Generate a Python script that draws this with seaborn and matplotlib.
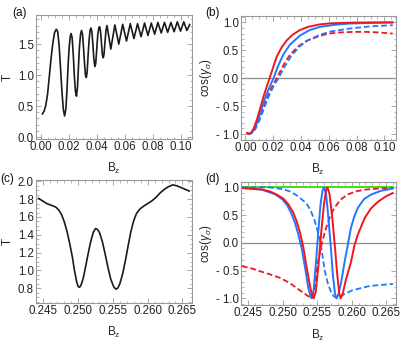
import matplotlib
matplotlib.use("Agg")
import matplotlib.pyplot as plt
import seaborn as sns
import numpy as np
from matplotlib.ticker import MultipleLocator, FuncFormatter

# ---- data ----
# (a) transmission vs Bz, low field
a_x = [0.0012, 0.0025, 0.0037, 0.0050, 0.0062, 0.0075, 0.0088, 0.0100, 0.0112, 0.0122,
       0.0132, 0.0142, 0.0152, 0.0162, 0.0171, 0.0180, 0.0188, 0.0196, 0.0204, 0.0212,
       0.0218, 0.0225, 0.0233, 0.0241, 0.0249, 0.0256, 0.0263, 0.0270, 0.0277, 0.0285,
       0.0292, 0.0299, 0.0306, 0.0314, 0.0320, 0.0326, 0.0332, 0.0339, 0.0346, 0.0353,
       0.0359, 0.0366, 0.0373, 0.0380, 0.0387, 0.0393, 0.0400, 0.0408, 0.0416, 0.0422,
       0.0428, 0.0435, 0.0441, 0.0447, 0.0453, 0.0460, 0.0467, 0.0474,
       0.0501, 0.0530, 0.0558, 0.0586, 0.0613, 0.0640, 0.0666, 0.0692, 0.0717, 0.0742,
       0.0766, 0.0790, 0.0814, 0.0837, 0.0861, 0.0884, 0.0907, 0.0930, 0.0953, 0.0976,
       0.0999, 0.1022, 0.1044, 0.1065]
a_y = [0.37, 0.42, 0.51, 0.70, 0.98, 1.28, 1.53, 1.69, 1.74, 1.70,
       1.48, 1.12, 0.74, 0.45, 0.34, 0.45, 0.75, 1.15, 1.46, 1.63,
       1.67, 1.60, 1.33, 0.98, 0.73, 0.66, 0.80, 1.13, 1.45, 1.66,
       1.72, 1.66, 1.45, 1.17, 1.00, 0.96, 1.05, 1.32, 1.57, 1.72,
       1.76, 1.70, 1.50, 1.26, 1.14, 1.18, 1.40, 1.65, 1.77, 1.78,
       1.70, 1.50, 1.33, 1.28, 1.34, 1.55, 1.73, 1.80,
       1.42, 1.81, 1.50, 1.82, 1.55, 1.83, 1.59, 1.83, 1.62, 1.84,
       1.64, 1.84, 1.66, 1.85, 1.68, 1.85, 1.69, 1.85, 1.70, 1.86,
       1.71, 1.86, 1.72, 1.82]

# (b) cos(gamma_sigma) vs Bz, low field
b_red_x = [0.0010, 0.0024, 0.0040, 0.0060, 0.0083, 0.0105, 0.0130, 0.0152, 0.0174, 0.0200,
           0.0226, 0.0260, 0.0298, 0.0340, 0.0390, 0.0450, 0.0536, 0.0620, 0.0750, 0.0900, 0.1060]
b_red_y = [-0.98, -1.00, -0.98, -0.90, -0.74, -0.55, -0.33, -0.16, 0.00, 0.20,
           0.39, 0.55, 0.68, 0.78, 0.86, 0.92, 0.965, 0.985, 0.995, 1.00, 1.00]
b_blue_x = [0.0010, 0.0024, 0.0045, 0.0065, 0.0090, 0.0120, 0.0150, 0.0175, 0.0202, 0.0235,
            0.0274, 0.0320, 0.0390, 0.0460, 0.0536, 0.0650, 0.0750, 0.0900, 0.1060]
b_blue_y = [-0.98, -1.00, -0.98, -0.91, -0.76, -0.52, -0.30, -0.15, 0.00, 0.22,
            0.43, 0.60, 0.76, 0.86, 0.92, 0.96, 0.98, 0.99, 1.00]
b_red_d_x = [0.0010, 0.0024, 0.0045, 0.0070, 0.0100, 0.0130, 0.0160, 0.0195, 0.0226, 0.0270,
             0.0320, 0.0380, 0.0440, 0.0536, 0.0600, 0.0680, 0.0780, 0.0870, 0.0960, 0.1060]
b_red_d_y = [-0.98, -1.00, -0.98, -0.90, -0.72, -0.52, -0.32, -0.13, 0.00, 0.22,
             0.42, 0.57, 0.67, 0.76, 0.80, 0.82, 0.83, 0.83, 0.82, 0.80]
b_blue_d_x = [0.0010, 0.0024, 0.0045, 0.0072, 0.0105, 0.0140, 0.0170, 0.0205, 0.0238, 0.0280,
              0.0330, 0.0390, 0.0450, 0.0536, 0.0620, 0.0750, 0.0900, 0.1060]
b_blue_d_y = [-0.98, -1.00, -0.98, -0.91, -0.73, -0.50, -0.31, -0.13, 0.00, 0.20,
              0.40, 0.57, 0.68, 0.78, 0.84, 0.89, 0.93, 0.95]

# (c) transmission near resonance
c_x = [0.2443, 0.2449, 0.2455, 0.2462, 0.2468, 0.2472, 0.2476, 0.2480, 0.2484, 0.2488,
       0.2492, 0.2495, 0.2498, 0.2500, 0.2502, 0.2504, 0.2507, 0.2510, 0.2514, 0.2518,
       0.2522, 0.2525, 0.2528, 0.2531, 0.2535, 0.2539, 0.2543, 0.2547, 0.2551, 0.2554,
       0.2557, 0.2560, 0.2564, 0.2568, 0.2572, 0.2576, 0.2580, 0.2584, 0.2589, 0.2594,
       0.2600, 0.2606, 0.2612, 0.2618, 0.2624, 0.2630, 0.2636, 0.2642, 0.2648, 0.2654, 0.2660]
c_y = [1.81, 1.78, 1.75, 1.73, 1.71, 1.68, 1.63, 1.55, 1.44, 1.30,
       1.14, 0.99, 0.87, 0.82, 0.81, 0.83, 0.90, 1.01, 1.17, 1.32,
       1.43, 1.47, 1.46, 1.42, 1.32, 1.18, 1.03, 0.90, 0.82, 0.79,
       0.80, 0.85, 0.96, 1.11, 1.28, 1.44, 1.56, 1.64, 1.69, 1.72,
       1.75, 1.78, 1.82, 1.87, 1.91, 1.94, 1.96, 1.95, 1.93, 1.91, 1.89]

# (d) cos(gamma_sigma) near resonance
d_green_x = [0.2441, 0.2660]
d_green_y = [1.0, 1.0]
d_blue_x = [0.2441, 0.2470, 0.2490, 0.2500, 0.2507, 0.2513, 0.2518, 0.2523, 0.2528, 0.2533,
            0.2537, 0.2540, 0.2542, 0.2545, 0.2548, 0.2552, 0.2555, 0.2558, 0.2560, 0.2563,
            0.2566, 0.2570, 0.2573, 0.2576, 0.2578, 0.2581, 0.2585, 0.2590, 0.2595, 0.2599,
            0.2604, 0.2609, 0.2618, 0.2628, 0.2643, 0.2660]
d_blue_y = [0.99, 0.96, 0.87, 0.78, 0.67, 0.52, 0.36, 0.14, -0.12, -0.48,
            -0.80, -0.95, -1.00, -0.85, -0.40, 0.25, 0.70, 0.95, 1.00, 0.88,
            0.50, -0.10, -0.60, -0.92, -1.00, -0.92, -0.70, -0.33, 0.00, 0.27,
            0.48, 0.63, 0.79, 0.87, 0.94, 0.98]
d_red_x = [0.2441, 0.2470, 0.2481, 0.2490, 0.2501, 0.2508, 0.2515, 0.2520, 0.2525, 0.2530,
           0.2535, 0.2540, 0.2543, 0.2545, 0.2548, 0.2552, 0.2556, 0.2560, 0.2563, 0.2565,
           0.2568, 0.2572, 0.2576, 0.2579, 0.2582, 0.2584, 0.2587, 0.2592, 0.2599, 0.2604,
           0.2609, 0.2619, 0.2628, 0.2638, 0.2650, 0.2660]
d_red_y = [0.99, 0.96, 0.93, 0.88, 0.80, 0.70, 0.56, 0.40, 0.20, -0.08,
           -0.45, -0.80, -0.95, -1.00, -0.88, -0.40, 0.20, 0.70, 0.95, 1.00,
           0.88, 0.45, -0.10, -0.55, -0.90, -1.00, -0.92, -0.65, -0.35, -0.05,
           0.15, 0.45, 0.62, 0.74, 0.84, 0.90]
d_blue_d_x = [0.2441, 0.2480, 0.2500, 0.2510, 0.2520, 0.2528, 0.2534, 0.2540, 0.2546, 0.2550,
              0.2555, 0.2561, 0.2566, 0.2570, 0.2574, 0.2578, 0.2583, 0.2590, 0.2600, 0.2612,
              0.2625, 0.2640, 0.2660]
d_blue_d_y = [1.00, 1.00, 0.97, 0.93, 0.86, 0.78, 0.72, 0.60, 0.42, 0.25,
              0.00, -0.50, -0.75, -0.88, -0.96, -0.99, -0.97, -0.92, -0.86, -0.82,
              -0.78, -0.76, -0.74]
d_red_d_x = [0.2441, 0.2455, 0.2467, 0.2480, 0.2496, 0.2510, 0.2520, 0.2530, 0.2537, 0.2542,
             0.2546, 0.2551, 0.2557, 0.2563, 0.2569, 0.2575, 0.2584, 0.2594, 0.2607, 0.2620,
             0.2640, 0.2660]
d_red_d_y = [-0.42, -0.46, -0.51, -0.56, -0.63, -0.72, -0.81, -0.90, -0.96, -1.00,
             -0.85, -0.36, 0.00, 0.27, 0.48, 0.63, 0.78, 0.87, 0.93, 0.96,
             0.98, 0.99]

RED = '#f2161c'
BLUE = '#1f78ff'
GREEN = '#44dd11'
DASH = (0, (3.2, 1.6))

sns.set_style("ticks")
plt.rcParams['font.family'] = ['Liberation Sans', 'DejaVu Sans']
plt.rcParams['mathtext.fontset'] = 'custom'
plt.rcParams['mathtext.rm'] = 'Liberation Sans'
plt.rcParams['mathtext.it'] = 'Liberation Sans:italic'
plt.rcParams['mathtext.sf'] = 'Liberation Sans'

fig = plt.figure(figsize=(4.11, 3.49), dpi=100)
ax_a = fig.add_axes([0.0876, 0.602, 0.380, 0.355])
ax_b = fig.add_axes([0.586, 0.600, 0.377, 0.355])
ax_c = fig.add_axes([0.0876, 0.132, 0.380, 0.351])
ax_d = fig.add_axes([0.586, 0.126, 0.377, 0.353])


def frame(ax, xmaj, xmin, ymaj, ymin, yfmt):
    for s in ax.spines.values():
        s.set_color('#999999')
        s.set_linewidth(0.8)
    ax.xaxis.set_major_locator(MultipleLocator(xmaj))
    ax.xaxis.set_minor_locator(MultipleLocator(xmin))
    ax.yaxis.set_major_locator(MultipleLocator(ymaj))
    ax.yaxis.set_minor_locator(MultipleLocator(ymin))
    ax.yaxis.set_major_formatter(FuncFormatter(yfmt))
    ax.tick_params(which='both', direction='in', top=True, right=True,
                   color='#999999', labelsize=8.3, labelcolor='#222222', pad=1.5)
    ax.tick_params(which='major', length=3.5, width=0.6)
    ax.tick_params(which='minor', length=1.8, width=0.5)
    ax.set_xlabel('B$_\\mathrm{z}$', fontsize=8.5, labelpad=6)


def fmt_signed(v, pos):
    return f'- {abs(v):.1f}' if v < -1e-9 else f'{abs(v):.1f}'


# (a)
sns.lineplot(x=a_x, y=a_y, ax=ax_a, color='#1a1a1a', lw=1.2, estimator=None, sort=False)
ax_a.set_xlim(-0.0033, 0.1082)
ax_a.set_ylim(-0.03, 1.97)
frame(ax_a, 0.02, 0.005, 0.5, 0.1, lambda v, p: f'{v:.1f}')
ax_a.xaxis.set_major_formatter(FuncFormatter(lambda v, p: f'{v:.2f}'))
ax_a.set_ylabel('T', fontsize=8.5, labelpad=3)

# (b)
ax_b.axhline(0, color='#8c8c8c', lw=0.9)
sns.lineplot(x=b_red_d_x, y=b_red_d_y, ax=ax_b, color=RED, lw=1.3, linestyle=DASH, estimator=None)
sns.lineplot(x=b_blue_d_x, y=b_blue_d_y, ax=ax_b, color=BLUE, lw=1.3, linestyle=DASH, estimator=None)
sns.lineplot(x=b_blue_x, y=b_blue_y, ax=ax_b, color=BLUE, lw=1.4, estimator=None)
sns.lineplot(x=b_red_x, y=b_red_y, ax=ax_b, color=RED, lw=1.4, estimator=None)
ax_b.set_xlim(-0.0033, 0.1082)
ax_b.set_ylim(-1.1, 1.12)
frame(ax_b, 0.02, 0.005, 0.5, 0.1, fmt_signed)
ax_b.xaxis.set_major_formatter(FuncFormatter(lambda v, p: f'{v:.2f}'))
ax_b.set_ylabel('cos($\\gamma_\\sigma$)', fontsize=8.5, labelpad=1)

# (c)
sns.lineplot(x=c_x, y=c_y, ax=ax_c, color='#1a1a1a', lw=1.2, estimator=None)
ax_c.set_xlim(0.24395, 0.2664)
ax_c.set_ylim(0.635, 2.01)
frame(ax_c, 0.005, 0.001, 0.2, 0.05, lambda v, p: f'{v:.1f}')
ax_c.xaxis.set_major_formatter(FuncFormatter(lambda v, p: f'{v:.3f}'))
ax_c.set_ylabel('T', fontsize=8.5, labelpad=3)

# (d)
ax_d.axhline(0, color='#8c8c8c', lw=0.9)
sns.lineplot(x=d_green_x, y=d_green_y, ax=ax_d, color=GREEN, lw=1.4, estimator=None)
sns.lineplot(x=d_red_d_x, y=d_red_d_y, ax=ax_d, color=RED, lw=1.3, linestyle=DASH, estimator=None)
sns.lineplot(x=d_blue_d_x, y=d_blue_d_y, ax=ax_d, color=BLUE, lw=1.3, linestyle=DASH, estimator=None)
sns.lineplot(x=d_blue_x, y=d_blue_y, ax=ax_d, color=BLUE, lw=1.4, estimator=None, sort=False)
sns.lineplot(x=d_red_x, y=d_red_y, ax=ax_d, color=RED, lw=1.4, estimator=None, sort=False)
ax_d.set_xlim(0.24395, 0.2664)
ax_d.set_ylim(-1.12, 1.1)
frame(ax_d, 0.005, 0.001, 0.5, 0.1, fmt_signed)
ax_d.xaxis.set_major_formatter(FuncFormatter(lambda v, p: f'{v:.3f}'))
ax_d.set_ylabel('cos($\\gamma_\\sigma$)', fontsize=8.5, labelpad=1)

# panel letters
for lbl, x, y in [('(a)', 0.030, 0.962), ('(b)', 0.499, 0.962),
                  ('(c)', 0.000, 0.487), ('(d)', 0.499, 0.487)]:
    fig.text(x, y, lbl, fontsize=8.5, color='#111111', va='center', ha='left')

fig.savefig('out.png', dpi=100)
